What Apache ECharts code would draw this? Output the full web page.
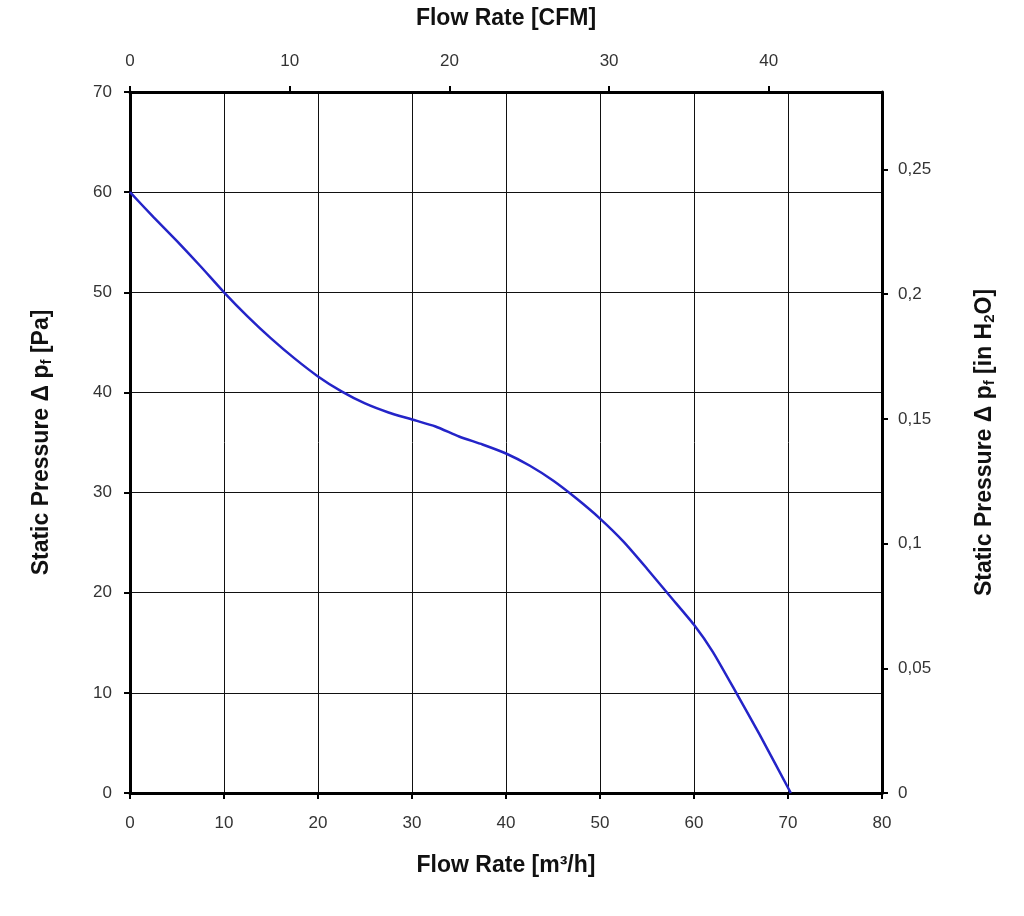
<!DOCTYPE html>
<html>
<head>
<meta charset="utf-8">
<script src="https://cdn.jsdelivr.net/npm/echarts@6/dist/echarts.min.js"></script>
<style>html,body{margin:0;padding:0;background:#fff}#c{width:1024px;height:916px}</style>
</head>
<body>
<div id="c"></div>
<script>
// Flow rate in m³/h (bottom axis)
const flowM3h = [0, 2.5, 5, 7.5, 10, 12.5, 15, 17.5, 20, 22.5, 25, 27.5, 30, 32.5, 35, 37.5, 40, 42.5, 45, 47.5, 50, 52.5, 55, 57.5, 60, 62, 64.5, 67, 70.3];
// Static pressure in Pa (left axis)
const pressurePa = [60, 57.5, 55.1, 52.6, 50, 47.6, 45.4, 43.4, 41.6, 40.1, 38.9, 38, 37.3, 36.6, 35.6, 34.8, 33.9, 32.7, 31.2, 29.4, 27.4, 25.1, 22.4, 19.6, 16.8, 14.1, 10, 5.8, 0];
// Axis ranges
const m3hMax = 80, paMax = 70;
const cfmMax = m3hMax / 1.69901;   // top axis in CFM
const inH2OMax = paMax / 249.089;  // right axis in inH2O
const bottomTicks = 10, leftTicks = 10, topTicks = 10, rightTicks = 0.05;

const chart = echarts.init(document.getElementById('c'));
const font = 'Liberation Sans, Arial, sans-serif';
const labelStyle = {color: '#333', fontSize: 17, fontFamily: font};
const nameStyleBase = {color: '#111', fontSize: 23, fontWeight: 'bold', fontFamily: font};
const axisLine = {show: true, onZero: false, lineStyle: {color: '#000', width: 3}};
const tick = {show: true, length: 6, lineStyle: {color: '#000', width: 2}};
const rich = {
  t: {fontSize: 23, fontWeight: 'bold', fontFamily: font, color: '#111'},
  s: {fontSize: 15, fontWeight: 'bold', fontFamily: font, color: '#111', verticalAlign: 'bottom', padding: [9, 0, 0, 0]}
};

const isMultiple = (v, step) => Math.abs(v / step - Math.round(v / step)) < 1e-6;

chart.setOption({
  backgroundColor: '#fff',
  animation: false,
  grid: {left: 130, right: 142, top: 92, bottom: 123, containLabel: false},
  xAxis: [
    {
      type: 'value', position: 'bottom', min: 0, max: m3hMax, interval: bottomTicks,
      name: 'Flow Rate [m³/h]', nameLocation: 'middle', nameGap: 61,
      nameTextStyle: nameStyleBase,
      axisLine: axisLine, axisTick: tick,
      axisLabel: Object.assign({margin: 22}, labelStyle),
      splitLine: {show: true, lineStyle: {color: '#111', width: 1}}
    },
    {
      type: 'value', position: 'top', min: 0, max: cfmMax, interval: topTicks,
      name: 'Flow Rate [CFM]', nameLocation: 'middle', nameGap: 62,
      nameTextStyle: nameStyleBase,
      axisLine: axisLine, axisTick: tick,
      axisLabel: Object.assign({margin: 22, showMaxLabel: false,
        formatter: v => isMultiple(v, topTicks) ? String(v) : ''}, labelStyle),
      splitLine: {show: false}
    }
  ],
  yAxis: [
    {
      type: 'value', position: 'left', min: 0, max: paMax, interval: leftTicks,
      name: '{t|Static Pressure Δ p}{s|f}{t| [Pa]}', nameLocation: 'middle', nameGap: 76,
      nameTextStyle: Object.assign({}, nameStyleBase, {rich: rich}),
      axisLine: axisLine, axisTick: tick,
      axisLabel: Object.assign({margin: 18}, labelStyle),
      splitLine: {show: true, lineStyle: {color: '#111', width: 1}}
    },
    {
      type: 'value', position: 'right', min: 0, max: inH2OMax, interval: rightTicks,
      name: '{t|Static Pressure Δ p}{s|f}{t| [in H}{s|2}{t|O]}', nameLocation: 'middle', nameGap: 91,
      nameTextStyle: Object.assign({}, nameStyleBase, {rich: rich}),
      axisLine: axisLine, axisTick: tick,
      axisLabel: Object.assign({margin: 16, showMaxLabel: false,
        formatter: v => isMultiple(v, rightTicks) ? String(+v.toFixed(2)).replace('.', ',') : ''}, labelStyle),
      splitLine: {show: false}
    }
  ],
  series: [
    {
      type: 'line', xAxisIndex: 0, yAxisIndex: 0,
      data: flowM3h.map((x, i) => [x, pressurePa[i]]),
      smooth: 0.2, showSymbol: false, symbol: 'none',
      lineStyle: {color: '#2424c8', width: 2.5}
    }
  ]
});
</script>
</body>
</html>
